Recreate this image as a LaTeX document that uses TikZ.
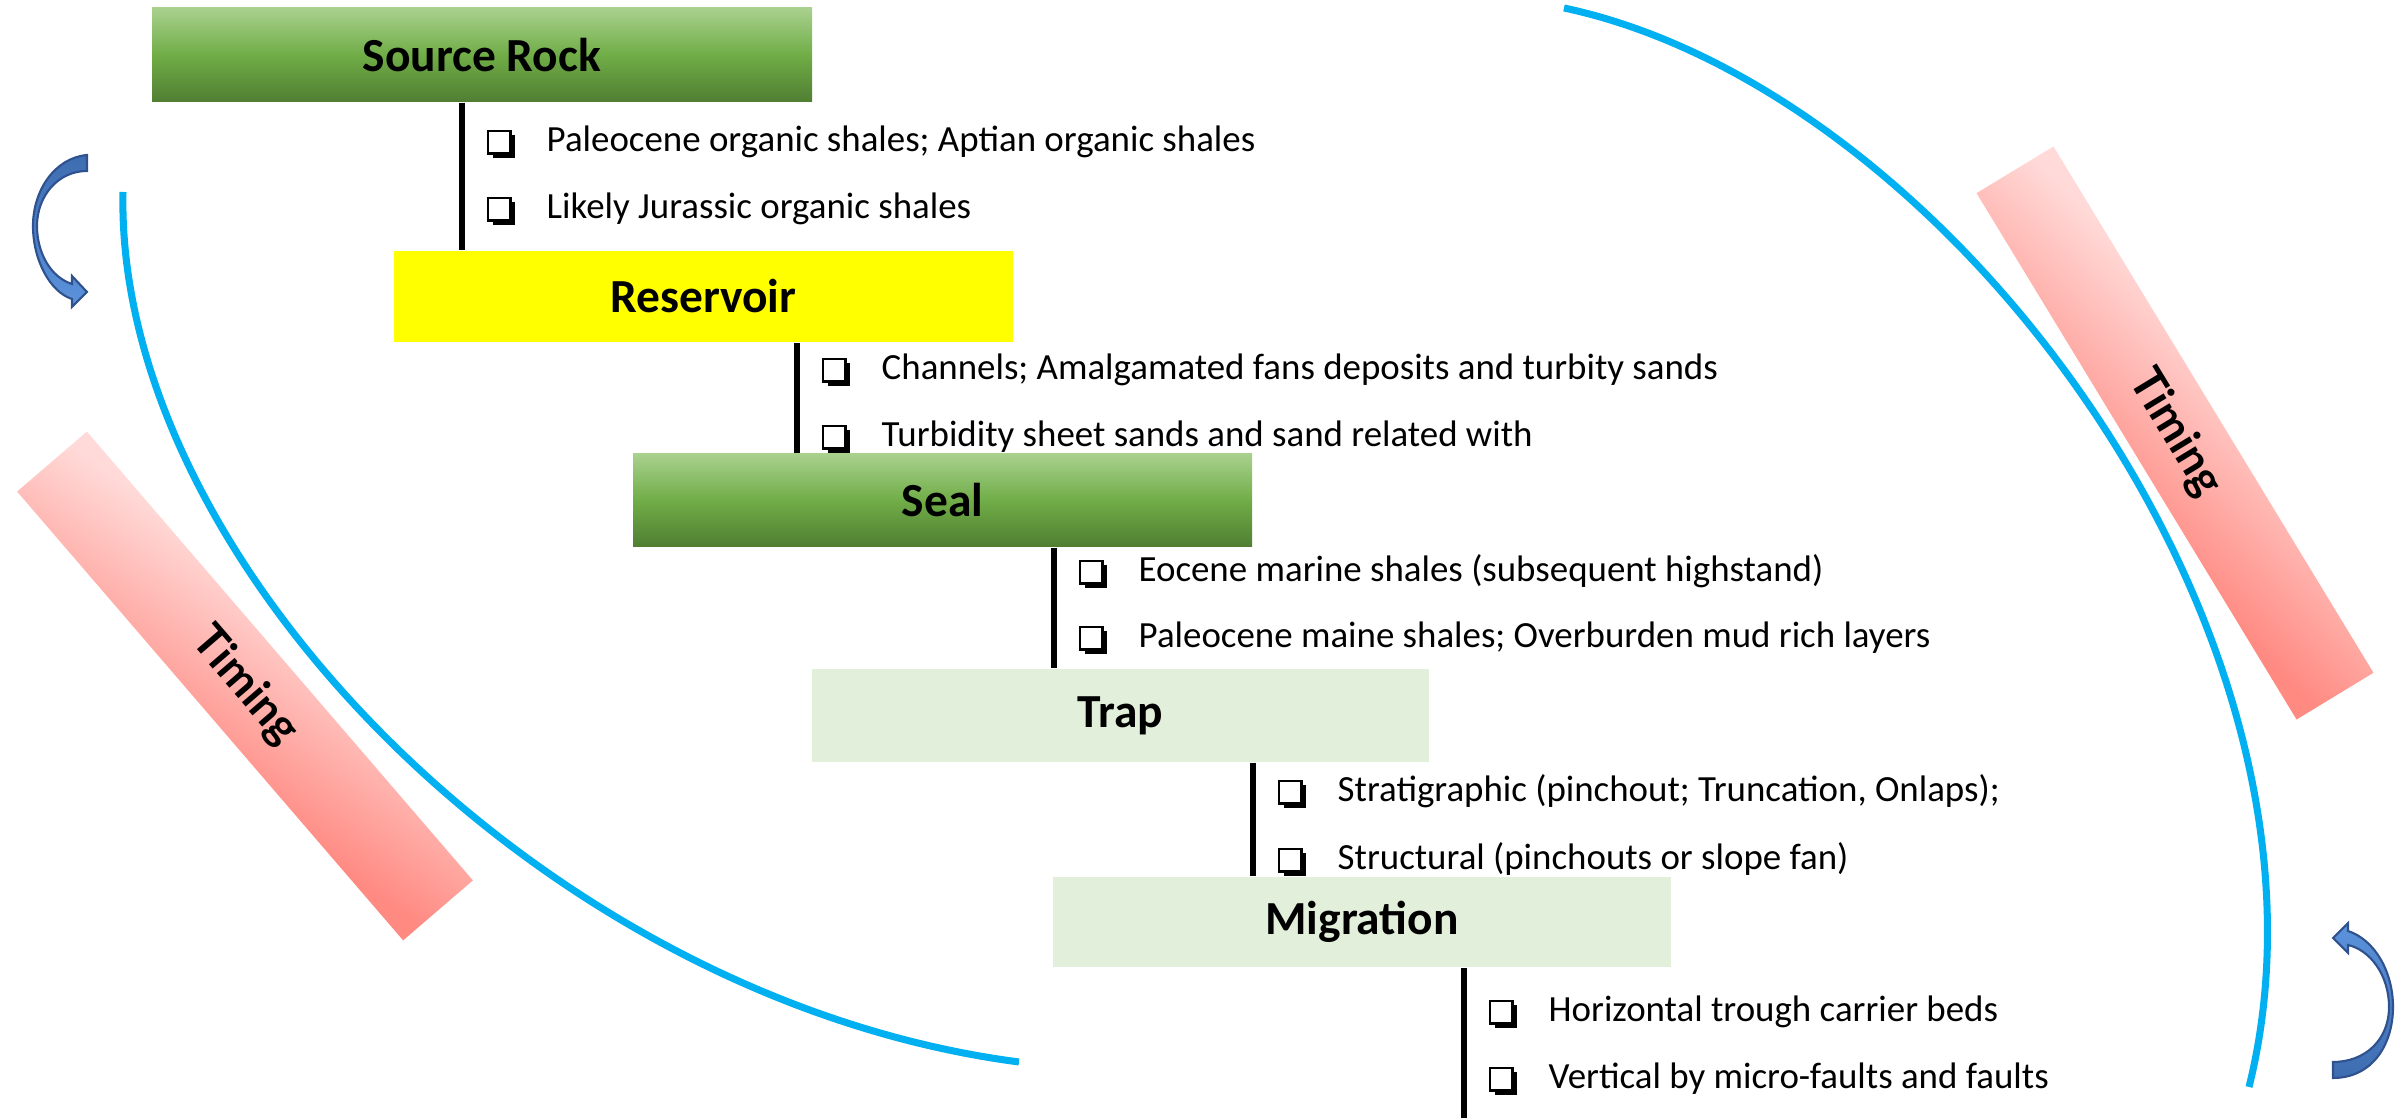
\documentclass[tikz,border=0pt]{standalone}
\usepackage{fontspec}
\setmainfont{Carlito}
\newfontfamily\timingfont{Lato}
\usetikzlibrary{calc}
\definecolor{greenTop}{HTML}{A9D18E}
\definecolor{greenMid}{HTML}{70AD47}
\definecolor{greenBot}{HTML}{507E32}
\definecolor{stageYellow}{HTML}{FFFF00}
\definecolor{stagePale}{HTML}{E2EFDA}
\definecolor{cycleBlue}{HTML}{00B0F0}
\definecolor{barLight}{HTML}{FFDAD8}
\definecolor{barDark}{HTML}{FF8A82}
\definecolor{arrowLight}{HTML}{5B93DC}
\definecolor{arrowDark}{HTML}{3E6CB0}
\definecolor{arrowEdge}{HTML}{2F528F}

\begin{document}
\begin{tikzpicture}[
  stage/.style={minimum width=6.19cm, minimum height=0.92cm, inner sep=0pt,
    font=\fontsize{13.5}{16}\selectfont\bfseries},
  greenstage/.style={stage, top color=greenTop, bottom color=greenBot, middle color=greenMid},
  stem/.style={line width=1.5pt},
  item/.style={anchor=mid west, inner sep=0pt, font=\fontsize{10.5}{12.6}\selectfont},
  chkframe/.style={draw=black, fill=white, line width=0.8pt},
  timingbar/.style={top color=barLight, bottom color=barDark, shading angle=14},
  timinglabel/.style={inner sep=0pt, font=\timingfont\fontsize{13}{15}\selectfont\bfseries},
  cyclearc/.style={line width=2pt, draw=cycleBlue},
  turnarrow/.style={draw=arrowEdge, line width=0.6pt}
]
  \useasboundingbox (0,0) rectangle (24.04,11.18);

  % stages of the petroleum system
  \node[greenstage, minimum width=6.60cm, minimum height=0.94cm] (src) at (4.82,10.63) {Source Rock};
  \node[stage, fill=stageYellow, minimum height=0.91cm] (res) at (7.035,8.215) {Reservoir};
  \node[greenstage, minimum height=0.93cm] (seal) at (9.425,6.175) {Seal};
  \node[stage, fill=stagePale, minimum width=6.17cm, minimum height=0.93cm] (trap) at (11.205,4.025) {Trap};
  \node[stage, fill=stagePale, minimum width=6.18cm, minimum height=0.90cm] (mig) at (13.62,1.96) {Migration};

  % stems
  \coordinate (x-src) at (4.62,0);
  \coordinate (x-res) at (7.97,0);
  \coordinate (x-seal) at (10.54,0);
  \coordinate (x-trap) at (12.53,0);
  \coordinate (x-mig) at (14.64,0);
  \draw[stem] (src.south -| x-src) -- (res.north -| x-src);
  \draw[stem] (res.south -| x-res) -- (seal.north -| x-res);
  \draw[stem] (seal.south -| x-seal) -- (trap.north -| x-seal);
  \draw[stem] (trap.south -| x-trap) -- (mig.north -| x-trap);
  \draw[stem] (mig.south -| x-mig) -- (x-mig);

  % items
  \node[item] (src-a) at (5.46,9.75) {Paleocene organic shales; Aptian organic shales};
  \node[item] (src-b) at (5.46,9.08) {Likely Jurassic organic shales};
  \node[item] (res-a) at (8.81,7.47) {Channels; Amalgamated fans deposits and turbity sands};
  \node[item] (res-b) at (8.81,6.80) {Turbidity sheet sands and sand related with};
  \node[item] (seal-a) at (11.38,5.45) {Eocene marine shales (subsequent highstand)};
  \node[item] (seal-b) at (11.38,4.79) {Paleocene maine shales; Overburden mud rich layers};
  \node[item] (trap-a) at (13.37,3.25) {Stratigraphic (pinchout; Truncation, Onlaps);};
  \node[item] (trap-b) at (13.37,2.57) {Structural (pinchouts or slope fan)};
  \node[item] (mig-a) at (15.48,1.05) {Horizontal trough carrier beds};
  \node[item] (mig-b) at (15.48,0.38) {Vertical by micro-faults and faults};

  % check boxes
  \foreach \n in {src-a,src-b,res-a,res-b,seal-a,seal-b,trap-a,trap-b,mig-a,mig-b} {
    \fill ($(\n.mid west)+(-0.535,-0.15)$) rectangle ++(0.225,0.225);
    \draw[chkframe] ($(\n.mid west)+(-0.58,-0.105)$) rectangle ++(0.225,0.225);
  }

  % timing cycle
  \draw[cyclearc] (1.23,9.26) .. controls (1.15,5.58) and (5.45,1.18) .. (10.19,0.56);
  \draw[cyclearc] (15.64,11.10) .. controls (19.50,10.28) and (23.60,4.78) .. (22.49,0.31);
  \begin{scope}[transform canvas={shift={(2.45,4.32)}, rotate=-49.3}]
    \shade[timingbar] (-2.96,-0.46) rectangle (2.96,0.46);
    \node[timinglabel] (timing-l) at (0,0) {Timing};
  \end{scope}
  \begin{scope}[transform canvas={shift={(21.75,6.85)}, rotate=-58.7}]
    \shade[timingbar] (-3.08,-0.45) rectangle (3.08,0.45);
    \node[timinglabel] (timing-r) at (0,0) {Timing};
  \end{scope}

  % turning arrows
  \shade[turnarrow, top color=arrowDark, bottom color=arrowLight]
    (0.87,9.63) .. controls (0.55,9.60) and (0.33,9.28) .. (0.33,8.92)
    .. controls (0.33,8.58) and (0.50,8.26) .. (0.72,8.19)
    -- (0.72,8.11) -- (0.87,8.26) -- (0.72,8.42) -- (0.72,8.34)
    .. controls (0.50,8.41) and (0.37,8.66) .. (0.37,8.92)
    .. controls (0.37,9.22) and (0.58,9.47) .. (0.87,9.47) -- cycle;
  \shade[turnarrow, top color=arrowLight, bottom color=arrowDark]
    (23.33,0.40) .. controls (23.72,0.40) and (23.93,0.73) .. (23.93,1.11)
    .. controls (23.93,1.46) and (23.75,1.78) .. (23.48,1.87)
    -- (23.48,1.95) -- (23.33,1.80) -- (23.48,1.65) -- (23.48,1.73)
    .. controls (23.70,1.68) and (23.89,1.43) .. (23.89,1.11)
    .. controls (23.89,0.78) and (23.65,0.56) .. (23.33,0.56) -- cycle;
\end{tikzpicture}
\end{document}
